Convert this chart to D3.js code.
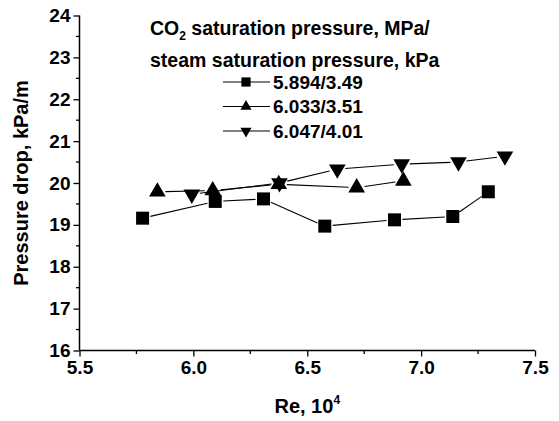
<!DOCTYPE html>
<html>
<head>
<meta charset="utf-8">
<script src="https://cdn.jsdelivr.net/npm/d3@7"></script>
<style>
  html, body { margin: 0; padding: 0; background: #fff; }
  svg { display: block; }
  text { font-family: "Liberation Sans", Arial, sans-serif; font-weight: bold; fill: #000; }
</style>
</head>
<body>
<svg id="chart" width="559" height="421"></svg>
<script>
// ---- data ----
const seriesNames = ["5.894/3.49", "6.033/3.51", "6.047/4.01"];
const seriesSymbols = ["square", "triangleUp", "triangleDown"];
const reSquare = [5.777, 6.096, 6.308, 6.577, 6.883, 7.139, 7.295];
const dpSquare = [19.16, 19.56, 19.62, 18.97, 19.12, 19.20, 19.79];
const reUp = [5.842, 6.085, 6.375, 6.717, 6.922];
const dpUp = [19.79, 19.82, 19.97, 19.89, 20.05];
const reDown = [5.993, 6.378, 6.632, 6.915, 7.164, 7.368];
const dpDown = [19.73, 20.00, 20.33, 20.45, 20.50, 20.64];
const xTicks = [5.5, 6.0, 6.5, 7.0, 7.5];
const yTicks = [16, 17, 18, 19, 20, 21, 22, 23, 24];
const legendTitle1 = "saturation pressure, MPa/";
const legendTitle2 = "steam saturation pressure, kPa";

const seriesX = [reSquare, reUp, reDown];
const seriesY = [dpSquare, dpUp, dpDown];

// ---- layout ----
const svg = d3.select("#chart");
const x = d3.scaleLinear().domain([5.5, 7.5]).range([79.5, 535]);
const y = d3.scaleLinear().domain([16, 24]).range([350.5, 15.5]);

const symType = {
  square: d3.symbolSquare,
  triangleUp: d3.symbolTriangle,
  triangleDown: d3.symbolTriangle
};
const symSize = { square: 169, triangleUp: 120, triangleDown: 120 };
function symbolPath(name, scale) {
  return d3.symbol().type(symType[name]).size(symSize[name] * (scale || 1))();
}
function symbolTransform(name, px, py) {
  return name === "triangleDown" ? `translate(${px},${py}) rotate(180)` : `translate(${px},${py})`;
}

// ---- axes ----
const xAxisG = svg.append("g").attr("transform", `translate(0,${y(16)})`);
xAxisG.call(d3.axisBottom(x).tickValues(xTicks).tickSize(6).tickPadding(4).tickFormat(d3.format(".1f")));
const xMinor = d3.range(5.75, 7.5, 0.5);
xAxisG.selectAll(".minor").data(xMinor).enter().append("line")
  .attr("class", "minor").attr("x1", d => x(d)).attr("x2", d => x(d))
  .attr("y1", 0).attr("y2", 3.5).attr("stroke", "#000").attr("stroke-width", 1.3);

const yAxisG = svg.append("g").attr("transform", `translate(${x(5.5)},0)`);
yAxisG.call(d3.axisLeft(y).tickValues(yTicks).tickSize(6).tickPadding(3).tickFormat(d3.format("d")));
const yMinor = d3.range(16.5, 24, 1);
yAxisG.selectAll(".minor").data(yMinor).enter().append("line")
  .attr("class", "minor").attr("x1", 0).attr("x2", -3.5)
  .attr("y1", d => y(d)).attr("y2", d => y(d)).attr("stroke", "#000").attr("stroke-width", 1.3);

[xAxisG, yAxisG].forEach(g => {
  g.select(".domain").attr("stroke", "#000").attr("stroke-width", 1.5);
  g.selectAll(".tick line").attr("stroke", "#000").attr("stroke-width", 1.3);
  g.selectAll(".tick text").attr("font-size", 19);
});
yAxisG.select(".domain").attr("d", `M0,${y(16)}V${y(24)}`);
xAxisG.select(".domain").attr("d", `M${x(5.5)},0H${x(7.5)}`);

// axis titles
const xTitle = svg.append("text").attr("x", (x(5.5) + x(7.5)) / 2).attr("y", 413)
  .attr("text-anchor", "middle").attr("font-size", 20);
xTitle.append("tspan").text("Re, 10");
xTitle.append("tspan").attr("font-size", 12).attr("dy", -9).text("4");

svg.append("text").attr("transform", `translate(28,${(y(16) + y(24)) / 2}) rotate(-90)`)
  .attr("text-anchor", "middle").attr("font-size", 20).text("Pressure drop, kPa/m");

// ---- series ----
const plot = svg.append("g");
seriesX.forEach((xs, si) => {
  const pts = xs.map((v, i) => [x(v), y(seriesY[si][i])]);
  const gap = 8;
  for (let i = 0; i < pts.length - 1; i++) {
    const [x0, y0] = pts[i], [x1, y1] = pts[i + 1];
    const len = Math.hypot(x1 - x0, y1 - y0);
    if (len <= 2 * gap) continue;
    const ux = (x1 - x0) / len, uy = (y1 - y0) / len;
    plot.append("line")
      .attr("x1", x0 + ux * gap).attr("y1", y0 + uy * gap)
      .attr("x2", x1 - ux * gap).attr("y2", y1 - uy * gap)
      .attr("stroke", "#000").attr("stroke-width", 1.1);
  }
  const name = seriesSymbols[si];
  plot.selectAll(null).data(pts).enter().append("path")
    .attr("d", symbolPath(name))
    .attr("transform", d => symbolTransform(name, d[0], d[1]))
    .attr("fill", "#000");
});

// ---- legend ----
const lg = svg.append("g");
const t1 = lg.append("text").attr("x", 150).attr("y", 35).attr("font-size", 19.5);
t1.append("tspan").text("CO");
t1.append("tspan").attr("font-size", 12).attr("dy", 5).text("2");
t1.append("tspan").attr("dy", -5).text(" " + legendTitle1);
lg.append("text").attr("x", 150).attr("y", 66.5).attr("font-size", 19.5).text(legendTitle2);

const legendScale = { square: 0.5, triangleUp: 0.45, triangleDown: 0.45 };
seriesNames.forEach((nm, i) => {
  const cy = 82 + i * 24.5;
  lg.append("line").attr("x1", 223).attr("x2", 270).attr("y1", cy).attr("y2", cy)
    .attr("stroke", "#000").attr("stroke-width", 1.1);
  lg.append("path").attr("d", symbolPath(seriesSymbols[i], legendScale[seriesSymbols[i]]))
    .attr("transform", symbolTransform(seriesSymbols[i], 246, cy))
    .attr("fill", "#000");
  lg.append("text").attr("x", 273).attr("y", cy + 6.8).attr("font-size", 19).text(nm);
});
</script>
</body>
</html>
